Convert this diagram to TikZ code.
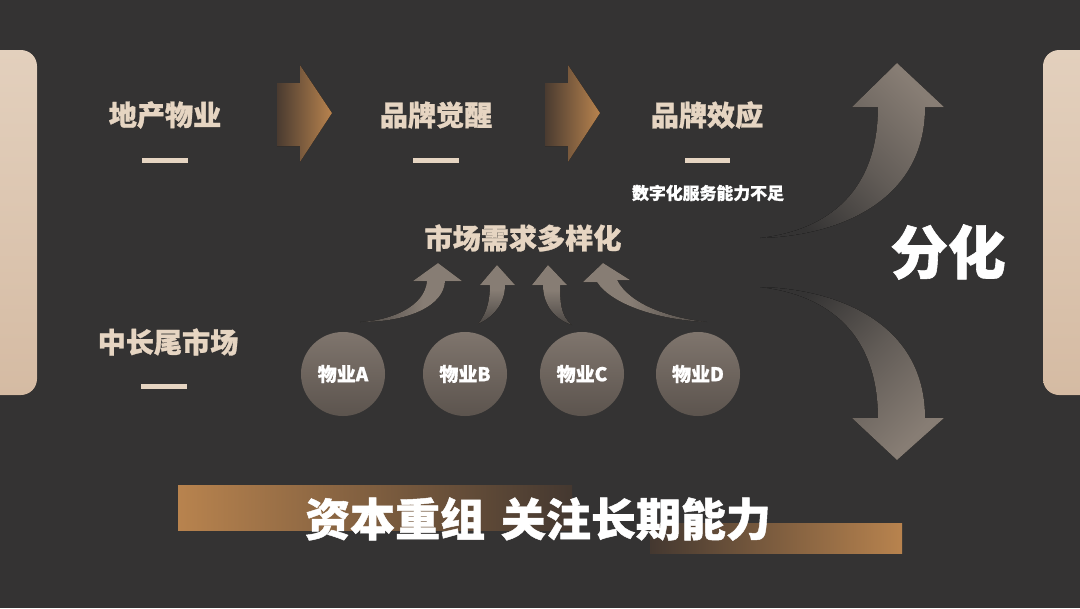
\documentclass[tikz,border=0pt]{standalone}
\usepackage{fontspec}
\newfontfamily\cjk{Noto Sans CJK SC}[BoldFeatures={FakeBold=1}]
\definecolor{bg}{HTML}{343333}
\definecolor{beige}{HTML}{E6D5C2}
\definecolor{copper}{HTML}{B8834E}
\definecolor{darkbrown}{HTML}{4A3B30}
\definecolor{barend}{HTML}{443830}
\definecolor{agray}{HTML}{877D74}
\definecolor{afaint}{HTML}{4A4643}
\definecolor{cgrayA}{HTML}{7F756D}
\definecolor{cgrayB}{HTML}{5C544E}
\definecolor{panelA}{HTML}{E3D0BD}
\definecolor{panelB}{HTML}{D5BBA3}
\pgfdeclarehorizontalshading{faderight}{100bp}{color(0bp)=(afaint); color(25bp)=(afaint); color(56bp)=(agray); color(100bp)=(agray)}
\pgfdeclarehorizontalshading{fadeleft}{100bp}{color(0bp)=(agray); color(44bp)=(agray); color(75bp)=(afaint); color(100bp)=(afaint)}
\pgfdeclareverticalshading{fadeup}{100bp}{color(0bp)=(afaint); color(25bp)=(afaint); color(54bp)=(agray); color(100bp)=(agray)}
\begin{document}
\begin{tikzpicture}[x=0.025cm,y=-0.025cm,
  title/.style={font=\cjk\bfseries\fontsize{20}{24}\selectfont, text=beige, inner sep=0pt},
  dashbox/.style={fill=beige, minimum width=1.125cm, minimum height=0.125cm, inner sep=0pt},
  note/.style={font=\cjk\bfseries\fontsize{12}{14}\selectfont, text=white, inner sep=0pt},
  prop/.style={circle, minimum size=2.1cm, inner sep=0pt, top color=cgrayA, bottom color=cgrayB,
     font=\cjk\bfseries\fontsize{13.5}{16}\selectfont, text=white},
  flowarrow/.style={left color=darkbrown, right color=copper},
  panel/.style={rounded corners=0.4cm, top color=panelA, bottom color=panelB},
]
\useasboundingbox (0,0) rectangle (1080,608);
\fill[bg] (0,0) rectangle (1080,608);

% side panels
\fill[panel] (-40,50) rectangle (37,395);
\fill[panel] (1043,50) rectangle (1120,395);

% top row titles
\node[title] (t1) at (165,115) {地产物业};
\node[title] (t2) at (436,115) {品牌觉醒};
\node[title] (t3) at (707,115) {品牌效应};
\node[dashbox] (d1) at (165,160) {};
\node[dashbox] (d2) at (436,160) {};
\node[dashbox] (d3) at (707,160) {};
\node[note] (n3) at (708,193) {数字化服务能力不足};

% flow arrows
\fill[flowarrow] (277,83) -- (300,83) -- (300,65) -- (332,113) -- (300,162) -- (300,146) -- (277,146) -- cycle;
\fill[flowarrow] (545,83) -- (568,83) -- (568,65) -- (600,113) -- (568,162) -- (568,146) -- (545,146) -- cycle;

% market
\node[title] (m) at (523,238) {市场需求多样化};
\node[title] (lt) at (168,342) {中长尾市场};
\node[dashbox] (d4) at (164,386) {};

% small curved arrows
\fill[shading=faderight] (360,322) .. controls (395,320) and (425,305) .. (427,281) -- (413,281) -- (438,263) -- (462,281) -- (445,281) .. controls (444,305) and (410,322) .. (360,322) -- cycle;
\fill[shading=fadeup] (478,324) .. controls (488,312) and (490,298) .. (490,285) -- (480,285) -- (497,265) -- (515,285) -- (505,285) .. controls (505,302) and (495,316) .. (478,324) -- cycle;
\fill[shading=fadeup] (572,325) .. controls (560,316) and (560,300) .. (560,285) -- (567,285) -- (548,265) -- (532,285) -- (543,285) .. controls (543,302) and (552,318) .. (572,325) -- cycle;
\fill[shading=fadeleft] (707,322) .. controls (660,320) and (612,305) .. (597,282) -- (583,282) -- (603,263) -- (630,280) -- (617,280) .. controls (630,305) and (670,318) .. (707,322) -- cycle;

% properties
\node[prop] (pA) at (343,374) {物业A};
\node[prop] (pB) at (465,374) {物业B};
\node[prop] (pC) at (582,374) {物业C};
\node[prop] (pD) at (698,374) {物业D};

% big curved arrows
\fill[top color=agray, bottom color=bg, middle color=agray!55!bg, shading angle=-45]
  (760,238) .. controls (840,236) and (925,200) .. (925,107) -- (944,107) -- (897,63) -- (852,107) -- (878,107) .. controls (878,190) and (830,230) .. (760,238) -- cycle;
\fill[top color=bg, bottom color=agray, middle color=agray!55!bg, shading angle=45]
  (760,287) .. controls (840,289) and (925,325) .. (925,418) -- (944,418) -- (897,460) -- (852,418) -- (878,418) .. controls (878,335) and (830,295) .. (760,287) -- cycle;
\node[font=\cjk\bfseries\fontsize{41}{48}\selectfont, text=white, inner sep=0pt] (fh) at (948,252) {分化};

% bottom banner
\fill[left color=copper, right color=barend] (178,485) rectangle (572,530);
\fill[left color=barend, right color=copper] (650,523) rectangle (902,553);
\node[font=\cjk\bfseries\fontsize{32}{38}\selectfont, text=white, inner sep=0pt] (bt) at (538,519) {资本重组\hspace{0.35em}关注长期能力};
\end{tikzpicture}
\end{document}
